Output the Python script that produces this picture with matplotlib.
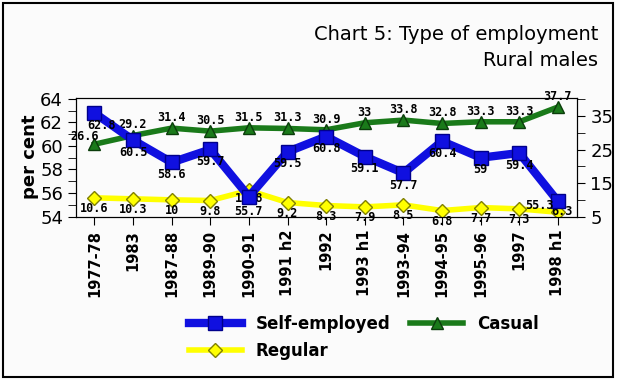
import matplotlib
matplotlib.use("Agg")
import matplotlib.pyplot as plt
from matplotlib.patches import Rectangle
from matplotlib.ticker import MultipleLocator

# data
periods = ['1977-78', '1983', '1987-88', '1989-90', '1990-91', '1991 h2', '1992',
           '1993 h1', '1993-94', '1994-95', '1995-96', '1997', '1998 h1']
self_employed = [62.8, 60.5, 58.6, 59.7, 55.7, 59.5, 60.8, 59.1, 57.7, 60.4, 59, 59.4, 55.3]
casual = [26.6, 29.2, 31.4, 30.5, 31.5, 31.3, 30.9, 33, 33.8, 32.8, 33.3, 33.3, 37.7]
regular = [10.6, 10.3, 10, 9.8, 12.8, 9.2, 8.3, 7.9, 8.5, 6.8, 7.7, 7.3, 6.3]

fig = plt.figure(figsize=(6.2, 3.8), dpi=100)
fig.patch.set_facecolor('#fbfbfb')
# outer frame
fig.add_artist(Rectangle((0.005, 0.008), 0.983, 0.985, transform=fig.transFigure,
                         fill=False, edgecolor='black', linewidth=1.5))

ax = fig.add_axes([0.123, 0.43, 0.808, 0.313])
ax2 = ax.twinx()
x = list(range(len(periods)))

# casual + regular on right axis
ax2.plot(x, casual, color='#1a7a1a', linewidth=4, marker='^', markersize=9,
         markerfacecolor='#1a7a1a', markeredgecolor='#0b3d0b', zorder=3)
ax2.plot(x, regular, color='#ffff00', linewidth=4, marker='D', markersize=7,
         markerfacecolor='#ffff00', markeredgecolor='#808000', zorder=3)
ax2.set_ylim(5, 40.5)
ax2.set_yticks([5, 15, 25, 35])
ax2.yaxis.set_minor_locator(MultipleLocator(5))
ax2.tick_params(axis='y', labelsize=13, length=6, direction='out')
ax2.tick_params(axis='y', which='minor', length=6)

# self-employed on left axis, drawn on top
ax.set_zorder(ax2.get_zorder() + 1)
ax.patch.set_visible(False)
ax.plot(x, self_employed, color='#1010e0', linewidth=6, marker='s', markersize=10,
        markerfacecolor='#1010e0', markeredgecolor='#00008b', zorder=4)
ax.set_ylim(54, 64.1)
ax.set_xlim(-0.47, 12.5)
ax.yaxis.set_major_locator(MultipleLocator(2))
ax.yaxis.set_minor_locator(MultipleLocator(1))
ax.tick_params(axis='y', labelsize=13, length=6)
ax.tick_params(axis='y', which='minor', length=6)
ax.set_xticks(x)
ax.set_xticklabels(periods, rotation=90, fontsize=10.5, fontweight='bold')
ax.tick_params(axis='x', length=6)
ax.set_ylabel('per cent', fontsize=13, fontweight='bold')
ax.yaxis.set_label_coords(-0.075, 0.5)

# label nudges (points) where labels would collide
self_off = {0: (5, -4), 4: (0, -6), 12: (-13, 2)}
casual_off = {0: (-7, 1)}
regular_off = {4: (0, -1), 12: (3, 5)}

lbl = dict(fontsize=8.5, fontweight='bold', family='DejaVu Sans Mono', ha='center')
for i, v in enumerate(self_employed):
    ax.annotate(f'{v:g}', (i, v), xytext=self_off.get(i, (0, -4)),
                textcoords='offset points', va='top', zorder=6, **lbl)
for i, v in enumerate(casual):
    ax2.annotate(f'{v:g}', (i, v), xytext=casual_off.get(i, (0, 3)),
                 textcoords='offset points', va='bottom', zorder=6, **lbl)
for i, v in enumerate(regular):
    ax2.annotate(f'{v:g}', (i, v), xytext=regular_off.get(i, (0, -3)),
                 textcoords='offset points', va='top', zorder=6, **lbl)

# legend
h1, = ax.plot([], [], color='#1010e0', linewidth=6, marker='s', markersize=10,
              markeredgecolor='#00008b')
h2, = ax2.plot([], [], color='#1a7a1a', linewidth=4, marker='^', markersize=9,
               markeredgecolor='#0b3d0b')
h3, = ax2.plot([], [], color='#ffff00', linewidth=4, marker='D', markersize=7,
               markeredgecolor='#808000')
fig.legend([h1, h3, h2], ['Self-employed', 'Regular', 'Casual'], ncol=2,
           loc='upper left', bbox_to_anchor=(0.28, 0.21), frameon=False,
           prop={'weight': 'bold', 'size': 12}, handlelength=3.2,
           columnspacing=1.2, labelspacing=0.5)

fig.text(0.965, 0.895, 'Chart 5: Type of employment', ha='right', fontsize=14)
fig.text(0.965, 0.825, 'Rural males', ha='right', fontsize=14)

fig.savefig('out.png', dpi=100, facecolor=fig.get_facecolor())
